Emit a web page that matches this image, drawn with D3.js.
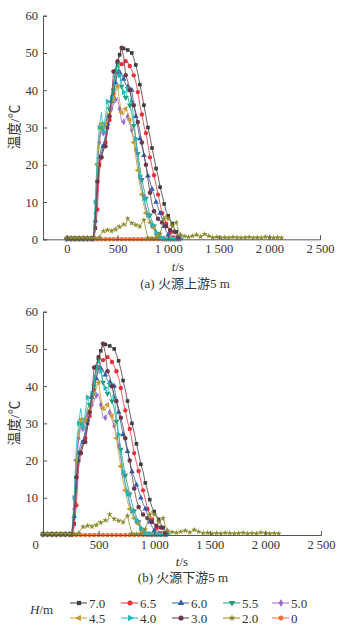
<!DOCTYPE html>
<html><head><meta charset="utf-8">
<script src="https://cdn.jsdelivr.net/npm/d3@7"></script>
<style>body{margin:0;background:#fff} text{font-family:"Liberation Serif",serif}</style>
</head><body><svg id="c" width="350" height="638"></svg>
<script>
// ---- DATA ----
const times = [0,40,80,120,160,200,240,260,280,300,320,340,360,380,400,420,440,460,480,500,520,540,560,580,600,620,640,660,680,700,720,740,760,780,800,820,840,860,880,900,920,940,960,980,1000,1020,1040,1060,1080,1100,1120,
  1160,1200,1240,1280,1320,1360,1400,1440,1480,1520,1560,1600,1640,1680,1720,1760,1800,1840,1880,1920,1960,2000,2040,2080,2120];
const hLabels = ["7.0","6.5","6.0","5.5","5.0","4.5","4.0","3.0","2.0","0"];
const s70 = [0.2,0.2,0.2,0.2,0.2,0.2,0.2, 0.2,3,12,20,23,25,27,30,33,37, 42,45,47.5,49.5,51.3,51.2,51,50.8,50.4,50, 48.5,46.8,44.5,41.5,39,36,33,30,27.5,24.5, 22,19,17,14,12,9.5,7.5,6.3,5.3,4.2, 3,2,1,0.3];
const s65 = [0.2,0.2,0.2,0.2,0.2,0.2,0.2, 0.2,2,8,18,22,24,26,29,32,35, 39,42.5,45,46.5,47,47.3,47.8,47.5,46.5,45.4, 44,42.3,39.5,36,33.5,30.5,28.5,25.5,22,19.5, 17.2,14.5,12,9.5,7,5.5,4.2,3,1.8,1, 0.5,0.3,0.2,0.2];
const s60 = [0.2,0.2,0.2,0.2,0.2,0.2,0.2, 0.2,5,14,22,24.5,25,28,31,34,37, 40,42,44.5,44.8,44.3,43,41.5,41,41,40, 36,33,30,27,25,22.5,20,17,15.5,13.5, 12,10,8.5,7,5.5,3.5,2.2,1.2,0.6,0.3, 0.2,0.2,0.2,0.2];
const s55 = [0.2,0.2,0.2,0.2,0.2,0.2,0.2, 0.2,8,20,27,30,29.5,31,34,35,37, 40,44,47,45,41,39,38,38.5,36,34, 30.5,27,23,19.5,16,13.5,11,8.5,6.5,5, 3.5,2.5,1.5,0.8,0.4,0.2,0.2,0.2,0.2,0.2, 0.2,0.2,0.2,0.2];
const s50 = [0.2,0.2,0.2,0.2,0.2,0.2,0.2, 0.2,7,18,26,29,28.5,30,32,34,35, 36,37.5,38,35,31.5,31.5,32.5,33,31,29.3, 27,24,20.5,16.5,13.5,11.5,8.5,6.5,5,3.5, 2.5,1.5,0.8,0.4,0.2,0.2,0.2,0.2,0.2,0.2, 0.2,0.2,0.2,0.2];
const s45 = [0.2,0.2,0.2,0.2,0.2,0.2,0.2, 0.2,9,20,28,31,29,31,31.5,33.5,36, 38,39.5,41,37,34,33.5,35,34,32,30, 26,22,18.5,14.5,12,9,7,5.5,4.5,4, 3,2,1,0.5,0.2,0.2,0.2,0.2,0.2,0.2, 0.2,0.2,0.2,0.2];
const s40 = [0.2,0.2,0.2,0.2,0.2,0.2,0.2, 0.2,10,24,30,34,29,33,37,35,38, 41,45,47.5,44,41,39.5,38,40.5,41,37, 32,27,21.5,17,14,11,8,6.5,5,4, 3,1.8,1,0.5,0.3,0.2,0.2,0.2,0.2,0.2, 0.2,0.2,0.2,0.2];
const s30 = [0.2,0.2,0.2,0.2,0.2,0.2,0.2, 0.2,6,15.5,21,22,24,25,29,33,38, 45,46,47.8,49.5,51.4,49,44,42.5,40,37.5, 36,34,31.5,29,26,23,20,16,12.5,9.5, 7.5,6.5,5.5,5,4.5,4,3.5,3,2.5,2.2, 2,1.2,0.5,0.2];
const s20 = [0.3,0.4,0.3,0.3,0.4,0.3,0.3, 0.3,0.3,0.3,0.5,1.5,2.2,1.8,2.5,2.8,2.2, 3,2.6,3.8,3.3,3.6,4,3.5,5.6,4.8,4.3, 4.6,3.8,4.2,3.4,4.4,5.2,2.5,0.4,0.3,0.3, 0.5,0.4,0.6,1.5,3.5,5.5,6.5,5.5,5,3.5, 4,4.5,2.5,1.2,
  0.8,0.6,0.9,1.2,0.7,1.4,0.9,0.5,0.6,0.4,0.5,0.4,0.6,0.5,0.4,0.5,0.6,0.4,0.5,0.4,0.7,0.5,0.4,0.5,0.4];
const s00 = [0,0,0,0,0,0,0, 0,0,0,0,0,0,0,0,0,0, 0,0,0,0,0,0,0,0,0,0, 0,0,0,0,0,0,0,0,0,0, 0,0,0,0,0,0,0,0,0,0, 0,0,0,0];
const seriesValues = [s70,s65,s60,s55,s50,s45,s40,s30,s20,s00];
const xTicks = [0,500,1000,1500,2000,2500];
const xTickLabels = ["0","500","1 000","1 500","2 000","2 500"];
const yTicksTop = [0,10,20,30,40,50,60];
const yTicksBottom = [10,20,30,40,50,60];

// ---- STYLE ----
const colors = ["#3d3d3d","#e8303a","#2d5fae","#1f9a78","#9a6cc8","#c99a2e","#22b6b8","#6a3848","#8c8a2c","#e8743b"];
const symTypes = [d3.symbolSquare,d3.symbolCircle,d3.symbolTriangle,d3.symbolTriangle,d3.symbolDiamond,d3.symbolTriangle,d3.symbolTriangle,d3.symbolCircle,d3.symbolStar,d3.symbolCircle];
const symRot = [0,0,0,180,0,-90,90,0,0,0];
const symSize = [13,15,14,14,13,14,14,16,11,15];
const drawOrder = [9,0,1,2,3,4,5,6,7,8];
const latin = "'Liberation Serif','Times New Roman',serif";
const cjk = "'Liberation Serif','Noto Sans CJK SC',serif";

const svg = d3.select("#c");

function panel(cfg){
  const g = svg.append("g");
  const x = d3.scaleLinear().domain(cfg.xDomain).range([43, cfg.xRight]);
  const y = d3.scaleLinear().domain([0,60]).range([cfg.y0, cfg.y60]);
  drawOrder.forEach(k=>{
    const vals = seriesValues[k];
    const pts = vals.map((v,i)=>({t:times[i], v}));
    g.append("path").datum(pts)
      .attr("fill","none").attr("stroke",colors[k]).attr("stroke-width",0.8)
      .attr("d", d3.line().x(d=>x(d.t)).y(d=>y(d.v)));
    const mk = pts.filter(d=> (d.t<260 || d.t>1120) ? true : ((d.t/20 + k) % 2 === 0));
    g.selectAll(null).data(mk).enter().append("path")
      .attr("d", d3.symbol().type(symTypes[k]).size(symSize[k]))
      .attr("fill", colors[k])
      .attr("transform", d=>`translate(${x(d.t)},${y(d.v)}) rotate(${symRot[k]})`);
  });
  const xa = g.append("g").attr("transform",`translate(0,${cfg.y0})`)
    .call(d3.axisBottom(x).tickValues(xTicks).tickFormat((d,i)=>xTickLabels[i]).tickSize(-4).tickPadding(5));
  const ya = g.append("g").attr("transform","translate(43,0)")
    .call(d3.axisLeft(y).tickValues(cfg.yTicks).tickSize(-4).tickPadding(5));
  [xa,ya].forEach(a=>{
    a.attr("font-family",latin);
    a.select(".domain").attr("stroke","#555").attr("stroke-width",1);
    a.selectAll(".tick line").attr("stroke","#555");
    a.selectAll(".tick text").attr("fill","#333").attr("font-family",latin).style("font-family",latin).style("font-size","12.5px");
  });
  if(cfg.shiftZero){
    xa.selectAll(".tick").filter(d=>d===0).select("text").attr("x",-8);
  }
  g.append("text").attr("transform",`translate(16,${cfg.ylabY}) rotate(-90)`)
    .attr("text-anchor","middle").attr("dominant-baseline","middle")
    .style("font-family",cjk).style("font-size","13.5px").attr("fill","#333").text("温度/℃");
  const tl = g.append("text").attr("x",cfg.tX).attr("y",cfg.tY).attr("text-anchor","middle")
    .style("font-family",latin).style("font-size","13px").attr("fill","#333");
  tl.append("tspan").style("font-style","italic").text("t");
  tl.append("tspan").text("/s");
  g.append("text").attr("x",cfg.capX).attr("y",cfg.capY).attr("text-anchor","middle")
    .style("font-family",cjk).style("font-size","13px").attr("fill","#333").text(cfg.caption);
}

panel({xDomain:[-237,2500], xRight:320, y0:239.3, y60:15.7, yTicks:yTicksTop, ylabY:127,
  tX:178, tY:271, capX:185, capY:288, caption:"(a) 火源上游5 m", shiftZero:false});
panel({xDomain:[0,2500], xRight:321, y0:535, y60:311.7, yTicks:yTicksBottom, ylabY:423,
  tX:182, tY:566, capX:183, capY:582, caption:"(b) 火源下游5 m", shiftZero:true});

const lg = svg.append("g");
const hl = lg.append("text").attr("x",30).attr("y",614)
  .style("font-family",latin).style("font-size","13px").attr("fill","#333");
hl.append("tspan").style("font-style","italic").text("H");
hl.append("tspan").text("/m");
const colX = [70,121,172,223,272];
const rowY = [603,618];
hLabels.forEach((lab,k)=>{
  const cx = colX[k%5], cy = rowY[Math.floor(k/5)];
  lg.append("line").attr("x1",cx).attr("x2",cx+17).attr("y1",cy).attr("y2",cy)
    .attr("stroke",colors[k]).attr("stroke-width",1);
  lg.append("path").attr("d",d3.symbol().type(symTypes[k]).size(symSize[k]+5)())
    .attr("fill",colors[k]).attr("transform",`translate(${cx+9},${cy}) rotate(${symRot[k]})`);
  lg.append("text").attr("x",cx+19).attr("y",cy+4.5)
    .style("font-family",latin).style("font-size","13px").attr("fill","#333").text(lab);
});
</script></body></html>
